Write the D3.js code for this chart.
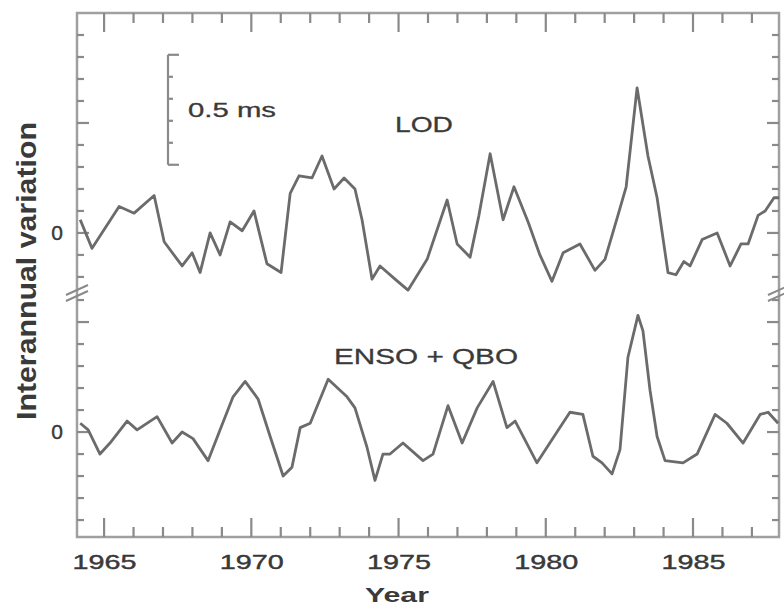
<!DOCTYPE html>
<html>
<head>
<meta charset="utf-8">
<script src="https://cdn.jsdelivr.net/npm/d3@7"></script>
<style>
  body { margin: 0; background: #fff; }
  text { font-family: "Liberation Sans", Arial, sans-serif; fill: #3a3a3a; }
</style>
</head>
<body>
<svg width="784" height="607"></svg>
<script>
// LOD, interannual (year, ms)
const lodYears = [1964.19, 1964.59, 1965.51, 1966.02, 1966.70, 1967.04, 1967.65, 1967.99, 1968.26, 1968.60,
  1968.94, 1969.28, 1969.69, 1970.09, 1970.53, 1971.01, 1971.32, 1971.62, 1972.06, 1972.40,
  1972.81, 1973.15, 1973.52, 1973.76, 1974.10, 1974.37, 1974.88, 1975.32, 1975.97, 1976.65,
  1976.99, 1977.43, 1977.73, 1978.11, 1978.55, 1978.92, 1979.40, 1979.80, 1980.21, 1980.59,
  1981.16, 1981.67, 1982.01, 1982.45, 1982.73, 1983.10, 1983.47, 1983.78, 1984.15, 1984.42,
  1984.69, 1984.90, 1985.31, 1985.82, 1986.26, 1986.63, 1986.87, 1987.21, 1987.45, 1987.75, 1987.92];
const lodValues = [0.06, -0.07, 0.12, 0.09, 0.17, -0.04, -0.15, -0.09, -0.18, 0.00,
  -0.10, 0.05, 0.01, 0.10, -0.14, -0.18, 0.18, 0.26, 0.25, 0.35,
  0.20, 0.25, 0.20, 0.06, -0.21, -0.15, -0.21, -0.26, -0.12, 0.15,
  -0.05, -0.11, 0.08, 0.36, 0.06, 0.21, 0.05, -0.10, -0.22, -0.09,
  -0.05, -0.17, -0.12, 0.08, 0.21, 0.66, 0.35, 0.16, -0.18, -0.19,
  -0.13, -0.15, -0.03, 0.00, -0.15, -0.05, -0.05, 0.08, 0.10, 0.16, 0.16];

// ENSO + QBO model (year, ms)
const ensoYears = [1964.19, 1964.46, 1964.86, 1965.20, 1965.78, 1966.12, 1966.80, 1967.31, 1967.65, 1968.02,
  1968.53, 1968.94, 1969.38, 1969.79, 1970.23, 1970.64, 1971.08, 1971.38, 1971.66, 1972.00,
  1972.61, 1973.25, 1973.52, 1973.93, 1974.20, 1974.47, 1974.71, 1975.15, 1975.83, 1976.17,
  1976.68, 1977.16, 1977.67, 1978.21, 1978.68, 1978.96, 1979.70, 1980.38, 1980.82, 1981.26,
  1981.60, 1981.91, 1982.25, 1982.52, 1982.79, 1983.13, 1983.30, 1983.54, 1983.78, 1984.05,
  1984.66, 1985.14, 1985.75, 1986.15, 1986.70, 1987.28, 1987.55, 1987.89];
const ensoValues = [0.04, 0.01, -0.10, -0.05, 0.05, 0.01, 0.07, -0.05, 0.00, -0.03,
  -0.13, 0.01, 0.16, 0.23, 0.15, -0.02, -0.20, -0.16, 0.02, 0.04,
  0.24, 0.16, 0.11, -0.07, -0.22, -0.10, -0.10, -0.05, -0.13, -0.10,
  0.12, -0.05, 0.11, 0.23, 0.02, 0.05, -0.14, 0.00, 0.09, 0.08,
  -0.11, -0.14, -0.19, -0.08, 0.34, 0.53, 0.46, 0.19, -0.02, -0.13,
  -0.14, -0.10, 0.08, 0.04, -0.05, 0.08, 0.09, 0.04];

const yearTicks = [1965, 1970, 1975, 1980, 1985];
const minorYears = d3.range(1965, 1988);
const topTicks = d3.range(-2, 10).map((k) => k / 10);   // upper panel, ms
const botTicks = d3.range(-4, 7).map((k) => k / 10);    // lower panel, ms
const scaleBarRange = [0.31, 0.81]; // 0.5 ms bar in upper panel units

const svg = d3.select('svg');
const mLeft = 77, mRight = 779, mTop = 13, mBottom = 537, split = 293;
const frameColor = '#a0a0a0';
const tickColor = '#8a8a8a';

const x = d3.scaleLinear().domain([1964.08, 1987.92]).range([mLeft, mRight]);
const yTop = d3.scaleLinear().domain([-0.273, 1.0]).range([split, mTop]);
const yBot = d3.scaleLinear().domain([-0.477, 0.632]).range([mBottom, split]);

// frame
svg.append('rect')
  .attr('x', mLeft).attr('y', mTop)
  .attr('width', mRight - mLeft).attr('height', mBottom - mTop)
  .attr('fill', 'none').attr('stroke', frameColor).attr('stroke-width', 2.5);

// tick marks, all pointing inward
const ticks = svg.append('g').attr('stroke', tickColor).attr('stroke-width', 2.2);
const xLen = (d) => (yearTicks.includes(d) ? 19 : 10);
ticks.selectAll('line.xbot').data(minorYears).join('line').attr('class', 'xbot')
  .attr('x1', (d) => x(d)).attr('x2', (d) => x(d))
  .attr('y1', mBottom).attr('y2', (d) => mBottom - xLen(d));
ticks.selectAll('line.xtop').data(minorYears).join('line').attr('class', 'xtop')
  .attr('x1', (d) => x(d)).attr('x2', (d) => x(d))
  .attr('y1', mTop).attr('y2', (d) => mTop + xLen(d));

function isMajor(d) {
  return Math.abs(d * 2 - Math.round(d * 2)) < 1e-6;
}
const yLen = (d) => (isMajor(d) ? 12 : 7);
[{ scale: yTop, vals: topTicks, key: 't' }, { scale: yBot, vals: botTicks, key: 'b' }].forEach((p) => {
  ticks.selectAll(`line.yl${p.key}`).data(p.vals).join('line').attr('class', `yl${p.key}`)
    .attr('x1', mLeft).attr('x2', (d) => mLeft + yLen(d))
    .attr('y1', (d) => p.scale(d)).attr('y2', (d) => p.scale(d));
  ticks.selectAll(`line.yr${p.key}`).data(p.vals).join('line').attr('class', `yr${p.key}`)
    .attr('x1', mRight).attr('x2', (d) => mRight - yLen(d))
    .attr('y1', (d) => p.scale(d)).attr('y2', (d) => p.scale(d));

  // "0" labels
  const gl = svg.append('g').attr('transform', `translate(${mLeft},0)`)
    .call(d3.axisLeft(p.scale).tickValues([0]).tickSize(0).tickPadding(14).tickFormat(() => '0'));
  gl.select('.domain').remove();
  gl.selectAll('.tick text').attr('font-size', 21).attr('fill', '#333')
    .attr('stroke', '#333').attr('stroke-width', 0.4);
});

// year labels
const xb = svg.append('g').attr('transform', `translate(0,${mBottom})`)
  .call(d3.axisBottom(x).tickValues(yearTicks).tickSize(0).tickPadding(17).tickFormat((d) => d));
xb.select('.domain').remove();
xb.selectAll('.tick text').attr('font-size', 21).attr('fill', '#333')
  .attr('stroke', '#333').attr('stroke-width', 0.4)
  .attr('textLength', 64).attr('lengthAdjust', 'spacingAndGlyphs');

// axis break marks
[mLeft, mRight].forEach((bx) => {
  [-3, 3].forEach((off) => {
    svg.append('line')
      .attr('x1', bx - 11).attr('y1', split + off + 5)
      .attr('x2', bx + 11).attr('y2', split + off - 5)
      .attr('stroke', tickColor).attr('stroke-width', 2);
  });
});

// curves
const lodLine = d3.line().x((d, i) => x(lodYears[i])).y((d) => yTop(d));
const ensoLine = d3.line().x((d, i) => x(ensoYears[i])).y((d) => yBot(d));

svg.append('path').attr('d', lodLine(lodValues))
  .attr('fill', 'none').attr('stroke', '#6b6b6b').attr('stroke-width', 2.8)
  .attr('stroke-linejoin', 'round');
svg.append('path').attr('d', ensoLine(ensoValues))
  .attr('fill', 'none').attr('stroke', '#6b6b6b').attr('stroke-width', 2.8)
  .attr('stroke-linejoin', 'round');

// 0.5 ms scale bar
const barX = x(1967.17);
const bar = svg.append('g').attr('stroke', tickColor).attr('stroke-width', 2.2);
bar.append('line').attr('x1', barX).attr('x2', barX)
  .attr('y1', yTop(scaleBarRange[0])).attr('y2', yTop(scaleBarRange[1]));
scaleBarRange.forEach((v) => {
  bar.append('line').attr('x1', barX).attr('x2', barX + 11)
    .attr('y1', yTop(v)).attr('y2', yTop(v));
});
d3.range(1, 5).forEach((k) => {
  const v = scaleBarRange[0] + k * 0.1;
  bar.append('line').attr('x1', barX).attr('x2', barX + 5)
    .attr('y1', yTop(v)).attr('y2', yTop(v));
});

svg.append('text').attr('x', 232).attr('y', 117)
  .attr('text-anchor', 'middle').attr('font-size', 20)
  .attr('stroke', '#3a3a3a').attr('stroke-width', 0.3)
  .attr('textLength', 88).attr('lengthAdjust', 'spacingAndGlyphs')
  .text('0.5 ms');

// series labels
svg.append('text').attr('x', 424).attr('y', 132)
  .attr('text-anchor', 'middle').attr('font-size', 22)
  .attr('stroke', '#3a3a3a').attr('stroke-width', 0.3)
  .attr('textLength', 58).attr('lengthAdjust', 'spacingAndGlyphs')
  .text('LOD');
svg.append('text').attr('x', 426).attr('y', 364)
  .attr('text-anchor', 'middle').attr('font-size', 22)
  .attr('stroke', '#3a3a3a').attr('stroke-width', 0.3)
  .attr('textLength', 184).attr('lengthAdjust', 'spacingAndGlyphs')
  .text('ENSO + QBO');

// axis titles
svg.append('text').attr('x', 397).attr('y', 602)
  .attr('text-anchor', 'middle').attr('font-size', 21).attr('font-weight', 'bold')
  .attr('fill', '#1e1e1e')
  .attr('textLength', 64).attr('lengthAdjust', 'spacingAndGlyphs')
  .text('Year');
svg.append('text')
  .attr('transform', 'translate(36,271) rotate(-90)')
  .attr('text-anchor', 'middle').attr('font-size', 28).attr('font-weight', 'bold')
  .attr('fill', '#1e1e1e')
  .attr('textLength', 298).attr('lengthAdjust', 'spacingAndGlyphs')
  .text('Interannual variation');
</script>
</body>
</html>
